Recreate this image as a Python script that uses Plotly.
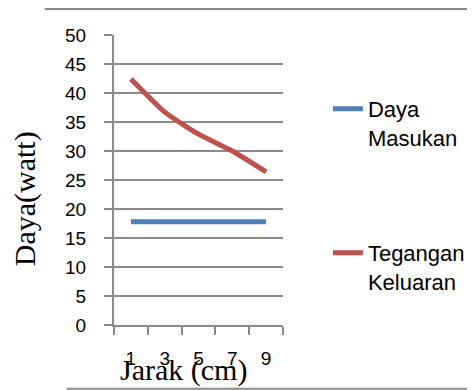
import plotly.graph_objects as go

# data
jarak = ["1", "3", "5", "7", "9"]
daya_masukan = [17.8, 17.8, 17.8, 17.8, 17.8]
tegangan_keluaran = [42.4, 36.7, 32.9, 30.0, 26.4]
y_ticks = [0, 5, 10, 15, 20, 25, 30, 35, 40, 45, 50]

fig = go.Figure()
fig.add_trace(go.Scatter(x=jarak, y=daya_masukan, mode="lines", name="Daya<br>Masukan",
                         legendgroup="a", line=dict(color="#4F81BD", width=5)))
fig.add_trace(go.Scatter(x=jarak, y=tegangan_keluaran, mode="lines", name="Tegangan<br>Keluaran",
                         legendgroup="b", line=dict(color="#C0504D", width=5, shape="spline", smoothing=0.5)))

grid = "#8c8c8c"
# page body has an 8px margin, so the figure is 8px smaller and shifted
fig.update_layout(
    width=467, height=382,
    margin=dict(l=106, r=192, t=27, b=65, autoexpand=False),
    plot_bgcolor="white", paper_bgcolor="white",
    font=dict(family="Liberation Sans, Arial", size=19, color="black"),
    legend=dict(x=0.685, y=0.791, xref="container", yref="container",
                xanchor="left", yanchor="top", valign="top", maxheight=320,
                traceorder="grouped", tracegroupgap=84,
                font=dict(family="Liberation Sans, Arial", size=22)),
    xaxis=dict(type="category", showgrid=False, showline=True, linecolor=grid, linewidth=2,
               ticks="outside", tickson="boundaries", ticklen=8, tickcolor=grid, tickwidth=2,
               ticklabelstandoff=15, range=[-0.5, 4.5]),
    yaxis=dict(range=[0, 50], tickvals=y_ticks, showgrid=True, gridcolor=grid, gridwidth=2,
               showline=True, linecolor=grid, linewidth=2, zeroline=False,
               ticks="outside", ticklen=8, tickcolor=grid, tickwidth=2, ticklabelstandoff=14),
    annotations=[
        dict(text="Jarak (cm)", x=0.41, y=-0.155, xref="paper", yref="paper", showarrow=False,
             xanchor="center", yanchor="middle",
             font=dict(family="Liberation Serif, Times New Roman", size=30)),
        dict(text="Daya(watt)", x=-0.53, y=0.435, xref="paper", yref="paper", showarrow=False,
             textangle=-90, xanchor="center", yanchor="middle",
             font=dict(family="Liberation Serif, Times New Roman", size=30)),
    ],
    shapes=[
        dict(type="line", xref="paper", yref="paper", x0=-0.41, x1=2.14, y0=1.09, y1=1.09,
             line=dict(color=grid, width=2)),
        dict(type="line", xref="paper", yref="paper", x0=-0.28, x1=2.14, y0=-0.22, y1=-0.22,
             line=dict(color=grid, width=2)),
    ],
)

fig.write_html("out.html")
